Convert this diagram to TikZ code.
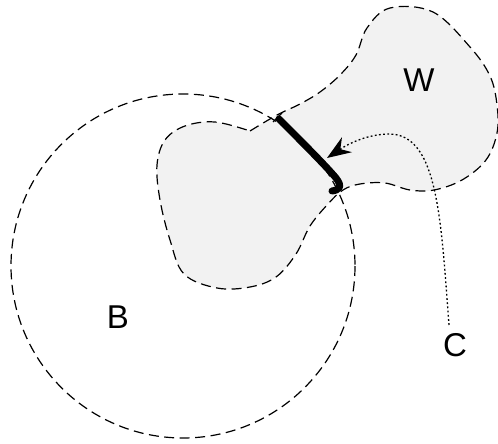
\documentclass[tikz,border=0pt]{standalone}
\usepackage{fontspec}
\setmainfont{Liberation Sans}
\usetikzlibrary{arrows.meta}
\tikzset{
  outline/.style={draw=black, line width=1.2pt, dash pattern=on 10pt off 5.5pt},
  region/.style={fill=black!5},
  lbl/.style={font=\fontsize{33}{33}\selectfont, inner sep=0pt},
  cut/.style={line width=7pt, line cap=round, line join=round},
  flow/.style={line width=1.3pt, dash pattern=on 1.8pt off 2.4pt, -{Stealth[length=24pt,width=18pt,inset=8pt]}},
}
\begin{document}
\begin{tikzpicture}[x=1pt,y=-1pt]
\useasboundingbox (0,0) rectangle (498,444);
% region W
\path[region] plot[smooth, tension=0.6] coordinates {
 (250,131) (277,115) (300,104) (320,92) (340,75) (356,55) (367,28) (390,8)
 (433,12) (470,47) (490,76) (497,105) (497,133) (486,160) (462,180) (434,190)
 (410,190) (385,183) (360,184) (343,190) (328,204) (310,226) (296,254) (276,277)
 (250,287) (217,288) (184,274) (170,240) (160,200) (157,165) (165,140) (185,126)
 (215,122) (250,131)} -- cycle;
% circle B
\draw[outline] (183,266) circle[radius=172];
% outline of W
\draw[outline] plot[smooth, tension=0.6] coordinates {
 (250,131) (277,115) (300,104) (320,92) (340,75) (356,55) (367,28) (390,8)
 (433,12) (470,47) (490,76) (497,105) (497,133) (486,160) (462,180) (434,190)
 (410,190) (385,183) (360,184) (343,190) (328,204) (310,226) (296,254) (276,277)
 (250,287) (217,288) (184,274) (170,240) (160,200) (157,165) (165,140) (185,126)
 (215,122) (250,131)};
% labels
\node[lbl] (W) at (419,80) {W};
\node[lbl] (B) at (118,317) {B};
\node[lbl] (C) at (455,345) {C};
% cut line
\coordinate (s) at (279,119);
\coordinate (e) at (332,191);
\draw[cut] (s) .. controls (300,140) and (326,166) .. (336,178) .. controls (343,187) and (339,190) .. (e);
\draw[line width=1.3pt] (273,122) -- (282,113);
% dotted path
\coordinate (c0) at (449,325);
\coordinate (tip) at (327,158);
\draw[flow] (c0) .. controls (441,220) and (438,135) .. (390,134) .. controls (365,134) and (345,146) .. (tip);
\end{tikzpicture}
\end{document}
